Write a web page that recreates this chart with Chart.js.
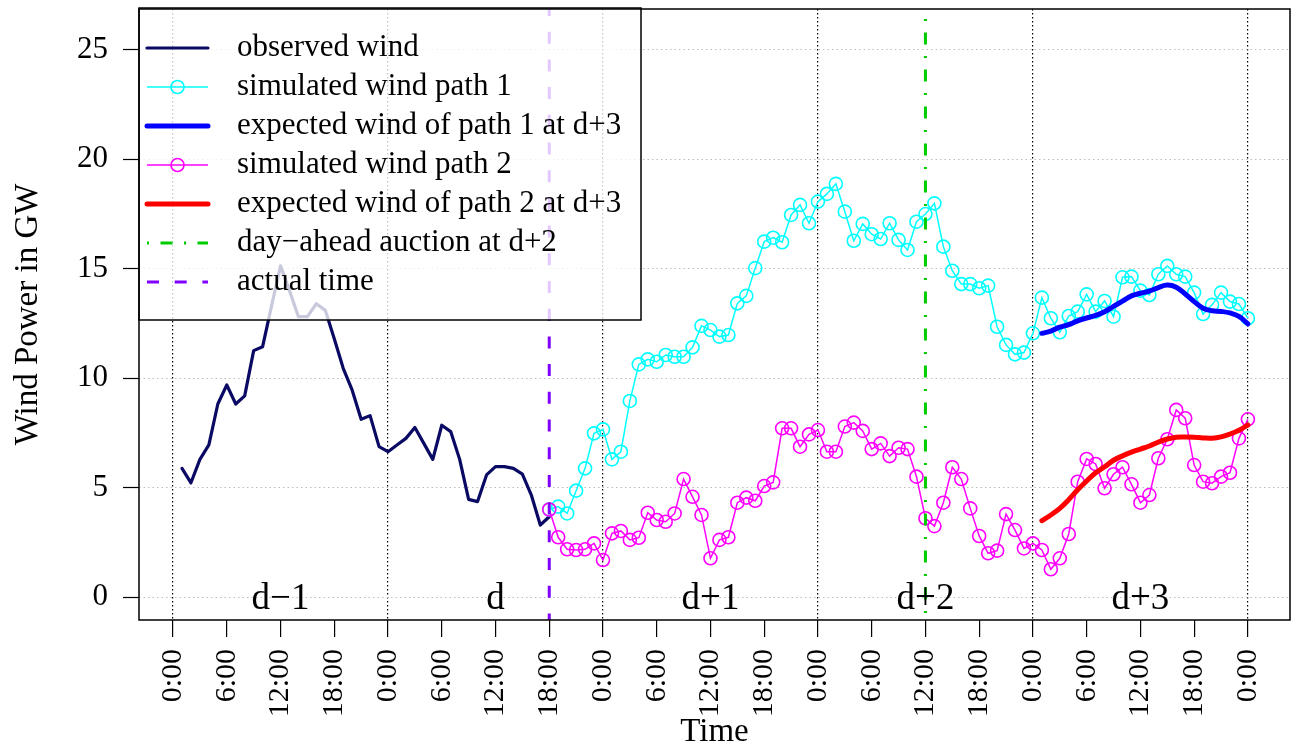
<!DOCTYPE html>
<html>
<head>
<meta charset="utf-8">
<title>Wind power paths</title>
<script src="https://cdn.jsdelivr.net/npm/chart.js@4.4.1/dist/chart.umd.min.js"></script>
<style>
  html, body { margin: 0; padding: 0; background: #fff; }
  #wrap { width: 1291px; height: 749px; }
</style>
</head>
<body>
<div id="wrap"><canvas id="windChart" width="1291" height="749"></canvas></div>
<script>
const FONT = "'Liberation Serif', 'Times New Roman', serif";

// all x values are hours counted from 0:00 of day d-1
const observedStart = 1;
const observedWind = [5.88, 5.22, 6.29, 6.95, 8.82, 9.69, 8.82, 9.19, 11.26, 11.44,
  13.3, 15.13, 14.0, 12.81, 12.81, 13.4, 13.1, 11.8, 10.45, 9.45,
  8.12, 8.29, 6.87, 6.64, 6.95, 7.25, 7.75, 7.02, 6.29, 7.85,
  7.56, 6.29, 4.46, 4.36, 5.58, 5.96, 5.96, 5.88, 5.62, 4.66,
  3.29, 3.67];

const pathStart = 42;
const simPath1 = [4.0, 4.13, 3.82, 4.86, 5.88, 7.48, 7.66, 6.29, 6.64, 8.96,
  10.63, 10.86, 10.75, 11.06, 10.98, 10.98, 11.41, 12.39, 12.2, 11.9,
  11.97, 13.42, 13.76, 15.03, 16.24, 16.42, 16.21, 17.46, 17.92, 17.08,
  18.07, 18.42, 18.88, 17.61, 16.28, 17.05, 16.58, 16.36, 17.08, 16.32,
  15.86, 17.15, 17.5, 17.99, 16.01, 14.91, 14.3, 14.3, 14.11, 14.23,
  12.35, 11.52, 11.09, 11.17, 12.05, 13.68, 12.74, 12.1, 12.84, 13.04,
  13.83, 13.04, 13.53, 12.81, 14.61, 14.64, 14.0, 13.8, 14.75, 15.13,
  14.75, 14.64, 13.91, 12.93, 13.35, 13.91, 13.5, 13.39, 12.74];
const simPath2 = [4.0, 2.73, 2.18, 2.15, 2.18, 2.45, 1.69, 2.91, 3.02, 2.61,
  2.71, 3.85, 3.52, 3.44, 3.82, 5.39, 4.58, 3.75, 1.77, 2.61,
  2.73, 4.31, 4.54, 4.4, 5.07, 5.24, 7.71, 7.71, 6.87, 7.43,
  7.63, 6.64, 6.64, 7.79, 7.97, 7.59, 6.76, 7.02, 6.44, 6.82,
  6.76, 5.5, 3.6, 3.24, 4.31, 5.93, 5.39, 4.05, 2.79, 2.0,
  2.12, 3.79, 3.06, 2.22, 2.45, 2.15, 1.27, 1.77, 2.88, 5.27,
  6.31, 6.08, 4.97, 5.61, 5.93, 5.15, 4.31, 4.66, 6.34, 7.21,
  8.55, 8.17, 6.03, 5.27, 5.2, 5.5, 5.68, 7.25, 8.12];

const expectedStart = 97;
const expectedPath1 = [12.05, 12.15, 12.33, 12.45, 12.62, 12.75, 12.87, 13.04, 13.28, 13.52,
  13.76, 13.88, 13.98, 14.14, 14.26, 14.16, 13.85, 13.5, 13.2, 13.08,
  13.05, 12.98, 12.82, 12.48];
const expectedPath2 = [3.49, 3.75, 4.05, 4.45, 4.9, 5.3, 5.68, 5.95, 6.25, 6.45,
  6.62, 6.76, 6.9, 7.08, 7.22, 7.3, 7.31, 7.3, 7.27, 7.26,
  7.32, 7.45, 7.62, 7.86];

const actualTimeHour = 42;
const auctionHour = 84;

const tickHours = [0, 6, 12, 18, 24, 30, 36, 42, 48, 54, 60, 66, 72, 78, 84, 90, 96, 102, 108, 114, 120];
const tickLabels = ['0:00', '6:00', '12:00', '18:00', '0:00', '6:00', '12:00', '18:00',
  '0:00', '6:00', '12:00', '18:00', '0:00', '6:00', '12:00', '18:00',
  '0:00', '6:00', '12:00', '18:00', '0:00'];
const yTicks = [0, 5, 10, 15, 20, 25];
const dayLabels = ['d\u22121', 'd', 'd+1', 'd+2', 'd+3'];
const dayLabelHours = [12, 36, 60, 84, 108];

const xMin = -3.8, xMax = 124.7;
const yMin = -1.05, yMax = 26.87;

function toPoints(start, values) {
  return values.map((v, i) => ({ x: start + i, y: v }));
}

// vertical marker lines, drawn from top to bottom
function vline(hour) {
  return [{ x: hour, y: yMax }, { x: hour, y: yMin }];
}

const datasets = [
  {
    label: 'observed wind',
    data: toPoints(observedStart, observedWind),
    borderColor: '#0a0a64', borderWidth: 3.2,
    borderJoinStyle: 'round', borderCapStyle: 'round',
    pointRadius: 0, tension: 0, order: 7
  },
  {
    label: 'simulated wind path 1',
    data: toPoints(pathStart, simPath1),
    borderColor: '#00ffff', borderWidth: 1.5,
    pointRadius: 6.5, pointBorderWidth: 1.6, pointBorderColor: '#00ffff',
    pointBackgroundColor: 'rgba(0,0,0,0)', tension: 0, order: 6
  },
  {
    label: 'expected wind of path 1 at d+3',
    data: toPoints(expectedStart, expectedPath1),
    borderColor: '#0000ff', borderWidth: 5,
    borderJoinStyle: 'round', borderCapStyle: 'round',
    pointRadius: 0, tension: 0.4, order: 5
  },
  {
    label: 'simulated wind path 2',
    data: toPoints(pathStart, simPath2),
    borderColor: '#ff00ff', borderWidth: 1.5,
    pointRadius: 6.5, pointBorderWidth: 1.6, pointBorderColor: '#ff00ff',
    pointBackgroundColor: 'rgba(0,0,0,0)', tension: 0, order: 4
  },
  {
    label: 'expected wind of path 2 at d+3',
    data: toPoints(expectedStart, expectedPath2),
    borderColor: '#ff0000', borderWidth: 5,
    borderJoinStyle: 'round', borderCapStyle: 'round',
    pointRadius: 0, tension: 0.4, order: 3
  },
  {
    label: 'day\u2212ahead auction at d+2',
    data: vline(auctionHour),
    borderColor: '#00cd00', borderWidth: 3,
    borderDash: [2, 11.5, 12, 11.5], borderDashOffset: 27,
    pointRadius: 0, order: 2
  },
  {
    label: 'actual time',
    data: vline(actualTimeHour),
    borderColor: '#8000ff', borderWidth: 3,
    borderDash: [12, 15.7], borderDashOffset: 5,
    pointRadius: 0, order: 1
  }
];

// legend box, day labels and plot frame
const overlayPlugin = {
  id: 'overlay',
  afterDatasetsDraw(chart) {
    const { ctx, chartArea: a, scales: { x, y } } = chart;
    ctx.save();

    ctx.fillStyle = '#000';
    ctx.font = '37px ' + FONT;
    ctx.textAlign = 'center';
    ctx.textBaseline = 'alphabetic';
    dayLabels.forEach((t, i) => {
      ctx.fillText(t, x.getPixelForValue(dayLabelHours[i]), y.getPixelForValue(0) + 12);
    });

    const L = { left: 139, top: 8, right: 641, bottom: 320, row0: 48, step: 39, from: 147, to: 208, textX: 237 };
    ctx.fillStyle = 'rgba(255,255,255,0.78)';
    ctx.fillRect(L.left, L.top, L.right - L.left, L.bottom - L.top);
    ctx.strokeStyle = '#000';
    ctx.lineWidth = 1.5;
    ctx.strokeRect(L.left, L.top, L.right - L.left, L.bottom - L.top);

    chart.data.datasets.forEach((ds, i) => {
      const yy = L.row0 + i * L.step;
      ctx.save();
      ctx.strokeStyle = ds.borderColor;
      ctx.lineWidth = ds.borderWidth;
      ctx.lineCap = ds.borderCapStyle || 'butt';
      ctx.setLineDash(ds.borderDash || []);
      ctx.beginPath();
      ctx.moveTo(L.from, yy);
      ctx.lineTo(L.to, yy);
      ctx.stroke();
      if (ds.pointRadius) {
        ctx.setLineDash([]);
        ctx.lineWidth = ds.pointBorderWidth;
        ctx.beginPath();
        ctx.arc((L.from + L.to) / 2, yy, ds.pointRadius, 0, Math.PI * 2);
        ctx.stroke();
      }
      ctx.fillStyle = '#000';
      ctx.font = '31px ' + FONT;
      ctx.textAlign = 'left';
      ctx.textBaseline = 'middle';
      ctx.fillText(ds.label, L.textX, yy);
      ctx.restore();
    });

    ctx.strokeStyle = '#000';
    ctx.lineWidth = 1.5;
    ctx.strokeRect(a.left, a.top, a.right - a.left, a.bottom - a.top);
    ctx.restore();
  }
};

new Chart(document.getElementById('windChart'), {
  type: 'line',
  data: { datasets },
  options: {
    responsive: false,
    animation: false,
    devicePixelRatio: 1,
    events: [],
    layout: { autoPadding: false, padding: { top: 9, right: 1, left: 0, bottom: 0 } },
    plugins: { legend: { display: false }, tooltip: { enabled: false } },
    scales: {
      x: {
        type: 'linear', min: xMin, max: xMax,
        afterBuildTicks: s => { s.ticks = tickHours.map(v => ({ value: v })); },
        afterFit: s => { s.height = 129; s.paddingLeft = 0; s.paddingRight = 0; },
        ticks: {
          autoSkip: false, maxRotation: 90, minRotation: 90, padding: 12,
          color: '#000', font: { family: FONT, size: 30 },
          callback: (v, i) => tickLabels[i]
        },
        grid: {
          color: c => (c.tick && c.tick.value % 24 === 0) ? '#000' : 'rgba(0,0,0,0)',
          lineWidth: 1.2, tickColor: '#000', tickLength: 17, tickWidth: 1.2
        },
        border: { display: false, dash: [1.4, 2.6] },
        title: {
          display: true, text: 'Time', color: '#000',
          font: { family: FONT, size: 33, lineHeight: 1 }, padding: { top: 0, bottom: 0 }
        }
      },
      y: {
        type: 'linear', min: yMin, max: yMax,
        afterBuildTicks: s => { s.ticks = yTicks.map(v => ({ value: v })); },
        afterFit: s => { s.width = 139; s.paddingTop = 0; s.paddingBottom = 0; },
        ticks: { padding: 15, color: '#000', font: { family: FONT, size: 31 } },
        grid: { color: '#bdbdbd', lineWidth: 1, tickColor: '#000', tickLength: 16, tickWidth: 1.2 },
        border: { display: false, dash: [1.5, 3] },
        title: {
          display: true, text: 'Wind Power in GW', color: '#000',
          font: { family: FONT, size: 33, lineHeight: 1 }, padding: { top: 12, bottom: 0 }
        }
      }
    }
  },
  plugins: [overlayPlugin]
});
</script>
</body>
</html>
